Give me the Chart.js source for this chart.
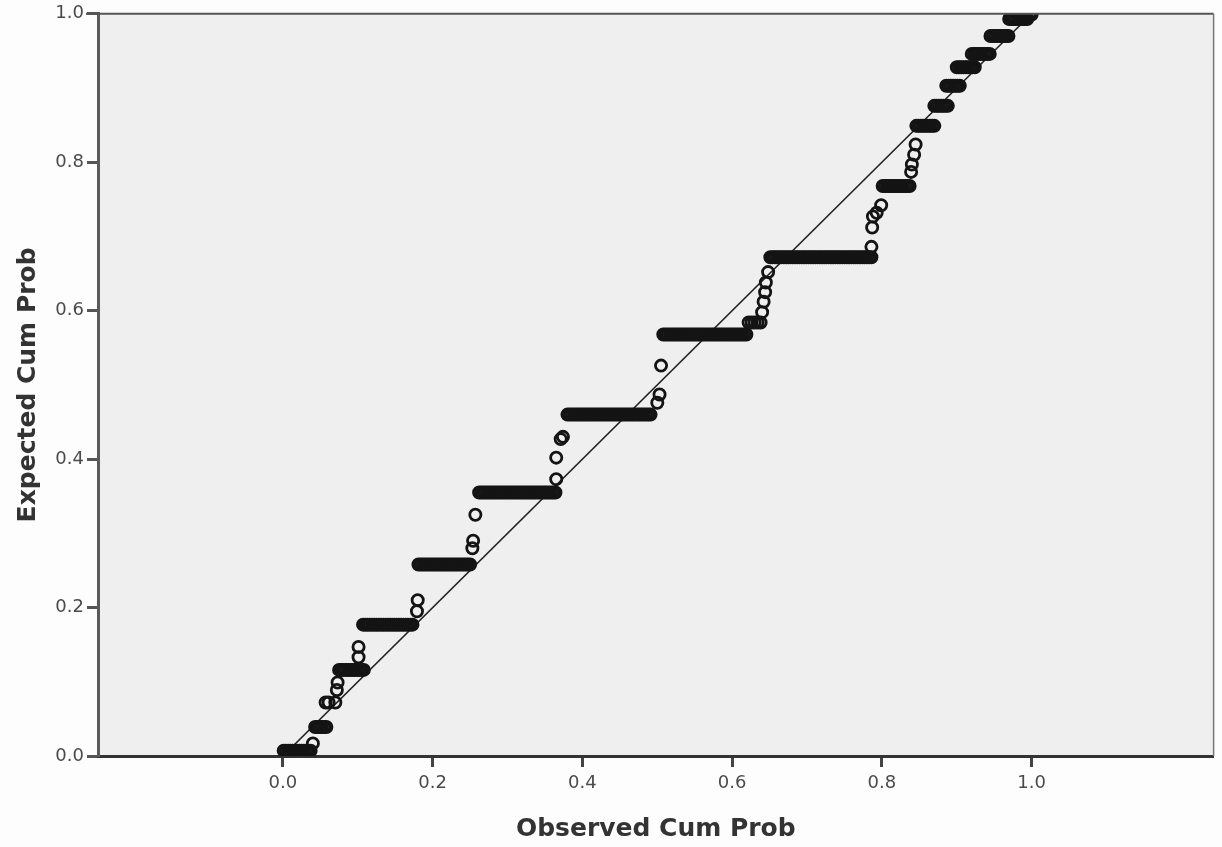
<!DOCTYPE html>
<html>
<head>
<meta charset="utf-8">
<title>Normal P-P Plot</title>
<script src="https://cdn.jsdelivr.net/npm/chart.js@4.4.1/dist/chart.umd.min.js"></script>
<style>
  html, body { margin: 0; padding: 0; background: #fdfdfd; }
  #wrap { width: 1222px; height: 847px; }
</style>
</head>
<body>
<div id="wrap"><canvas id="ppChart" width="1222" height="847"></canvas></div>
<script>
// Expected cum prob of each tied group, and the observed cum probs that share it
const tieLevels = [0.007, 0.039, 0.072, 0.116, 0.177, 0.258, 0.355, 0.460, 0.568, 0.584, 0.672, 0.768,
                   0.849, 0.876, 0.903, 0.928, 0.946, 0.970, 0.993, 0.999];
const tieObserved = [
  [0.001, 0.004, 0.007, 0.010, 0.013, 0.016, 0.019, 0.022, 0.025, 0.028, 0.031, 0.034, 0.037],
  [0.043, 0.046, 0.049, 0.052, 0.055, 0.058],
  [0.057, 0.061, 0.070],
  [0.075, 0.078, 0.081, 0.084, 0.087, 0.090, 0.093, 0.096, 0.099, 0.102, 0.105, 0.108],
  [0.107, 0.110, 0.113, 0.116, 0.119, 0.122, 0.125, 0.128, 0.131, 0.134, 0.137, 0.140, 0.143, 0.146,
   0.149, 0.152, 0.155, 0.158, 0.161, 0.164, 0.167, 0.170, 0.173],
  [0.181, 0.184, 0.187, 0.190, 0.193, 0.196, 0.199, 0.202, 0.205, 0.208, 0.211, 0.214, 0.217, 0.220,
   0.223, 0.226, 0.229, 0.232, 0.235, 0.238, 0.241, 0.244, 0.247, 0.250],
  [0.262, 0.265, 0.268, 0.271, 0.274, 0.277, 0.280, 0.283, 0.286, 0.289, 0.292, 0.295, 0.298, 0.301,
   0.304, 0.307, 0.310, 0.313, 0.316, 0.319, 0.322, 0.325, 0.328, 0.331, 0.334, 0.337, 0.340, 0.343,
   0.346, 0.349, 0.352, 0.355, 0.358, 0.361, 0.364],
  [0.380, 0.383, 0.386, 0.389, 0.392, 0.395, 0.398, 0.401, 0.404, 0.407, 0.410, 0.413, 0.416, 0.419,
   0.422, 0.425, 0.428, 0.431, 0.434, 0.437, 0.440, 0.443, 0.446, 0.449, 0.452, 0.455, 0.458, 0.461,
   0.464, 0.467, 0.470, 0.473, 0.476, 0.479, 0.482, 0.485, 0.488, 0.491],
  [0.508, 0.511, 0.514, 0.517, 0.520, 0.523, 0.526, 0.529, 0.532, 0.535, 0.538, 0.541, 0.544, 0.547,
   0.550, 0.553, 0.556, 0.559, 0.562, 0.565, 0.568, 0.571, 0.574, 0.577, 0.580, 0.583, 0.586, 0.589,
   0.592, 0.595, 0.598, 0.601, 0.604, 0.607, 0.610, 0.613, 0.616, 0.619],
  [0.622, 0.626, 0.630, 0.634, 0.638],
  [0.651, 0.654, 0.657, 0.660, 0.663, 0.666, 0.669, 0.672, 0.675, 0.678, 0.681, 0.684, 0.687, 0.690,
   0.693, 0.696, 0.699, 0.702, 0.705, 0.708, 0.711, 0.714, 0.717, 0.720, 0.723, 0.726, 0.729, 0.732,
   0.735, 0.738, 0.741, 0.744, 0.747, 0.750, 0.753, 0.756, 0.759, 0.762, 0.765, 0.768, 0.771, 0.774,
   0.777, 0.780, 0.783, 0.786],
  [0.801, 0.804, 0.807, 0.810, 0.813, 0.816, 0.819, 0.822, 0.825, 0.828, 0.831, 0.834, 0.837],
  [0.846, 0.849, 0.852, 0.855, 0.858, 0.861, 0.864, 0.867, 0.870],
  [0.870, 0.873, 0.876, 0.879, 0.882, 0.885, 0.888],
  [0.886, 0.889, 0.892, 0.895, 0.898, 0.901, 0.904],
  [0.900, 0.903, 0.906, 0.909, 0.912, 0.915, 0.918, 0.921, 0.924],
  [0.920, 0.923, 0.926, 0.929, 0.932, 0.935, 0.938, 0.941, 0.944],
  [0.945, 0.948, 0.951, 0.954, 0.957, 0.960, 0.963, 0.966, 0.969],
  [0.970, 0.973, 0.976, 0.979, 0.982, 0.985, 0.988, 0.991, 0.994],
  [0.993, 0.997, 1.000]
];

// single cases between the tied groups
const looseObserved = [0.040, 0.072, 0.073, 0.101, 0.101, 0.179, 0.180, 0.253, 0.254, 0.257,
                       0.365, 0.365, 0.371, 0.374, 0.500, 0.503, 0.505,
                       0.640, 0.642, 0.644, 0.645, 0.648,
                       0.786, 0.787, 0.788, 0.793, 0.799,
                       0.839, 0.840, 0.843, 0.845];
const looseExpected = [0.017, 0.089, 0.099, 0.133, 0.147, 0.195, 0.210, 0.280, 0.290, 0.325,
                       0.373, 0.402, 0.427, 0.430, 0.476, 0.487, 0.526,
                       0.598, 0.612, 0.625, 0.638, 0.652,
                       0.686, 0.712, 0.727, 0.732, 0.742,
                       0.787, 0.797, 0.810, 0.824];

const xTicks = [0.0, 0.2, 0.4, 0.6, 0.8, 1.0];
const yTicks = [0.0, 0.2, 0.4, 0.6, 0.8, 1.0];
const diagonal = [0, 1];

var points = [];
tieObserved.forEach(function(xs, i) {
    xs.forEach(function(x) {
        points.push({x: x, y: tieLevels[i]});
    });
});
looseObserved.forEach(function(x, i) {
    points.push({x: x, y: looseExpected[i]});
});

// grey plot area plus the thin top / right frame
const plotFrame = {
    id: 'plotFrame',
    beforeDraw(chart) {
        const {ctx, chartArea: a} = chart;
        ctx.save();
        ctx.fillStyle = '#efefef';
        ctx.fillRect(a.left, a.top, a.right - a.left, a.bottom - a.top);
        ctx.restore();
    },
    afterDraw(chart) {
        const {ctx, chartArea: a} = chart;
        ctx.save();
        ctx.strokeStyle = '#555';
        ctx.lineWidth = 2;
        ctx.beginPath();
        ctx.moveTo(a.left - 12, a.top);
        ctx.lineTo(a.right, a.top);
        ctx.stroke();
        ctx.strokeStyle = '#777';
        ctx.lineWidth = 1.5;
        ctx.beginPath();
        ctx.moveTo(a.right, a.top);
        ctx.lineTo(a.right, a.bottom);
        ctx.stroke();
        ctx.restore();
    }
};

const tickFont = {family: 'DejaVu Sans', size: 18};
const titleFont = {family: 'DejaVu Sans', size: 25, weight: 'bold'};

var ctx = document.getElementById('ppChart').getContext('2d');
var ppChart = new Chart(ctx, {
    type: 'scatter',
    data: {
        datasets: [{
            label: 'Observed',
            data: points,
            pointStyle: 'circle',
            pointRadius: 5.6,
            pointHoverRadius: 5.6,
            pointBorderWidth: 2.8,
            borderColor: '#141414',
            backgroundColor: 'rgba(0,0,0,0)'
        }, {
            label: 'Expected',
            type: 'line',
            data: diagonal.map(v => ({x: v, y: v})),
            borderColor: '#222',
            borderWidth: 1.6,
            pointRadius: 0,
            fill: false
        }]
    },
    options: {
        responsive: false,
        animation: false,
        devicePixelRatio: 1,
        layout: {padding: {left: 0, top: 13, right: 7, bottom: 0}},
        plugins: {legend: {display: false}, tooltip: {enabled: false}},
        scales: {
            x: {
                type: 'linear',
                min: -0.247,
                max: 1.243,
                afterBuildTicks: scale => { scale.ticks = xTicks.map(v => ({value: v})); },
                afterFit: scale => { scale.height = 91; },
                ticks: {
                    callback: v => v.toFixed(1),
                    font: tickFont,
                    color: '#4a4a4a',
                    padding: 6,
                    maxRotation: 0,
                    autoSkip: false
                },
                grid: {drawOnChartArea: false, drawTicks: true, tickLength: 11, tickWidth: 3, tickColor: '#444'},
                border: {display: true, color: '#333', width: 3},
                title: {
                    display: true,
                    text: 'Observed Cum Prob',
                    font: titleFont,
                    color: '#333',
                    padding: {top: 0, bottom: 3}
                }
            },
            y: {
                type: 'linear',
                min: 0,
                max: 1,
                afterBuildTicks: scale => { scale.ticks = yTicks.map(v => ({value: v})); },
                afterFit: scale => { scale.width = 98; },
                ticks: {
                    callback: v => v.toFixed(1),
                    font: tickFont,
                    color: '#4a4a4a',
                    padding: 3,
                    autoSkip: false
                },
                grid: {drawOnChartArea: false, drawTicks: true, tickLength: 11, tickWidth: 3, tickColor: '#555'},
                border: {display: true, color: '#5a5a5a', width: 3},
                title: {
                    display: true,
                    text: 'Expected Cum Prob',
                    font: titleFont,
                    color: '#333',
                    padding: {top: 13, bottom: 0}
                }
            }
        }
    },
    plugins: [plotFrame]
});
</script>
</body>
</html>
